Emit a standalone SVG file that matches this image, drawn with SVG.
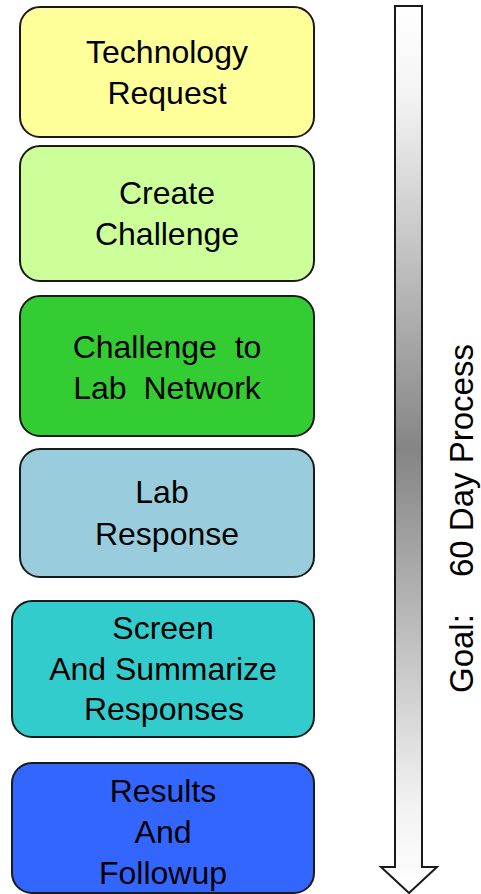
<svg xmlns="http://www.w3.org/2000/svg" width="481" height="894" viewBox="0 0 481 894">
<style>
.box{stroke:#1a1a1a;stroke-width:2}
.t{font-family:"Liberation Sans",Arial,sans-serif;font-size:32px;fill:#000;text-anchor:middle}
</style>
<defs>
<linearGradient id="g" x1="0" y1="6" x2="0" y2="893" gradientUnits="userSpaceOnUse">
<stop offset="0" stop-color="#ffffff"/>
<stop offset="0.1" stop-color="#f4f4f4"/>
<stop offset="0.5" stop-color="#858585"/>
<stop offset="0.9" stop-color="#f2f2f2"/>
<stop offset="1" stop-color="#ffffff"/>
</linearGradient>
</defs>
<rect width="481" height="894" fill="#fff"/>
<g id="connectors">
<polygon points="395,6 422,6 422,867 437,867 409,893 381,867 395,867" fill="url(#g)" stroke="#1a1a1a" stroke-width="2" stroke-linejoin="miter"/>
</g>
<g id="n1">
<rect class="box" x="20" y="7" width="294" height="130" rx="20" fill="#ffff99"/>
<text class="t" x="167" y="63">Technology</text>
<text class="t" x="167" y="104">Request</text>
</g>
<g id="n2">
<rect class="box" x="20" y="146" width="294" height="135" rx="20" fill="#ccff99"/>
<text class="t" x="167" y="204">Create</text>
<text class="t" x="167" y="245">Challenge</text>
</g>
<g id="n3">
<rect class="box" x="20" y="296" width="294" height="140" rx="20" fill="#33cc33"/>
<text class="t" x="167" y="358" word-spacing="9">Challenge to</text>
<text class="t" x="167" y="399" word-spacing="8">Lab Network</text>
</g>
<g id="n4">
<rect class="box" x="20" y="449" width="294" height="128" rx="20" fill="#99ccdd"/>
<text class="t" x="162" y="503">Lab</text>
<text class="t" x="167" y="545">Response</text>
</g>
<g id="n5">
<rect class="box" x="12" y="601" width="302" height="136" rx="20" fill="#33cccc"/>
<text class="t" x="163" y="639">Screen</text>
<text class="t" x="163" y="680">And Summarize</text>
<text class="t" x="164" y="720">Responses</text>
</g>
<g id="n6">
<rect class="box" x="12" y="763" width="302" height="130" rx="20" fill="#3366ff"/>
<text class="t" x="163" y="802">Results</text>
<text class="t" x="163" y="843">And</text>
<text class="t" x="163" y="884">Followup</text>
</g>
<g id="label">
<text transform="rotate(-90)" y="473" font-family="Liberation Sans,Arial,sans-serif" font-size="33" fill="#000"><tspan x="-693">Goal:</tspan><tspan x="-577">60 Day Process</tspan></text>
</g>
</svg>
